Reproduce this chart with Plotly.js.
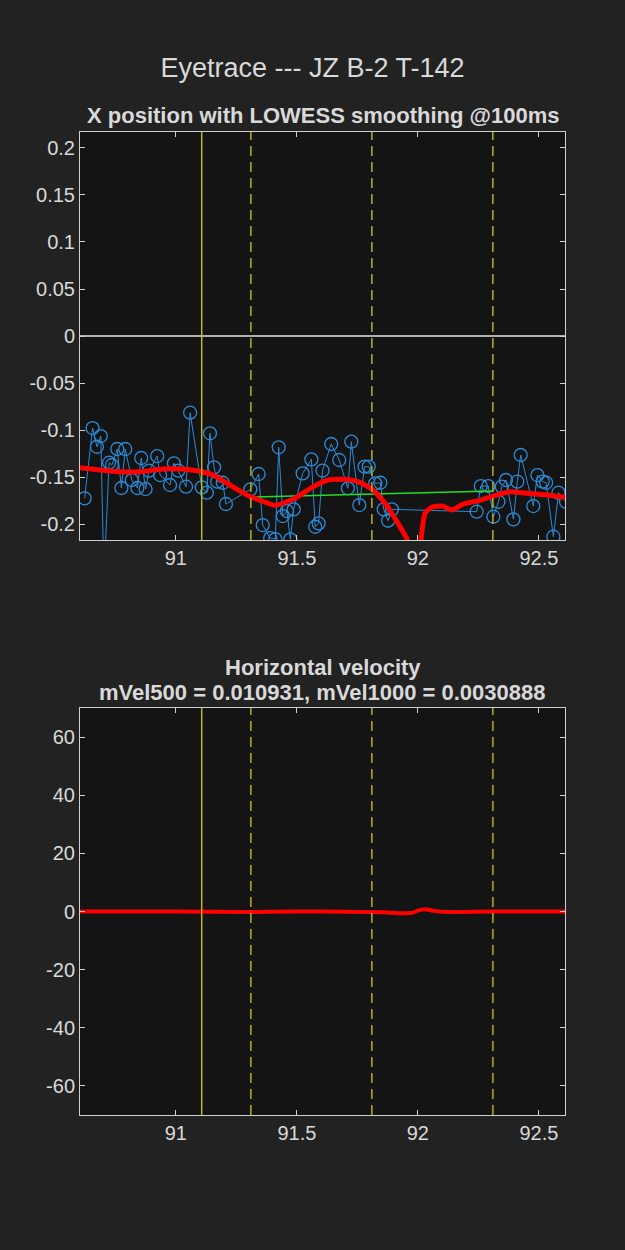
<!DOCTYPE html>
<html>
<head>
<meta charset="utf-8">
<script src="https://cdn.plot.ly/plotly-3.0.1.min.js"></script>
<style>
html,body{margin:0;padding:0;background:#222222;}
#plot{width:625px;height:1250px;}
</style>
</head>
<body>
<div id="plot"></div>
<script>
// ---- data ----
const posTime = [90.623,90.656,90.674,90.690,90.703,90.724,90.736,90.758,90.775,90.791,90.818,90.841,90.857,90.875,90.889,90.923,90.935,90.976,90.992,91.010,91.042,91.059,91.107,91.128,91.141,91.158,91.171,91.194,91.207,
  91.308,91.342,91.359,91.390,91.411,91.425,91.442,91.459,91.473,91.487,91.524,91.560,91.576,91.590,91.606,91.642,91.675,91.711,91.725,91.758,91.780,91.797,91.824,91.845,91.859,91.877,91.893,
  92.243,92.260,92.291,92.312,92.333,92.347,92.364,92.395,92.411,92.425,92.477,92.494,92.516,92.530,92.560,92.581,92.612];
const posX = [-0.1727,-0.0979,-0.1178,-0.1064,-0.2596,-0.1348,-0.1372,-0.1202,-0.1617,-0.1202,-0.1532,-0.1617,-0.1298,-0.1628,-0.1433,-0.1277,-0.1479,-0.1585,-0.1354,-0.1433,-0.1603,-0.0816,-0.1610,-0.1667,-0.1035,-0.1397,-0.1550,-0.1561,-0.1787,
  -0.1631,-0.1468,-0.2011,-0.2149,-0.2160,-0.1184,-0.1915,-0.1862,-0.2163,-0.1844,-0.1461,-0.1312,-0.2029,-0.1993,-0.1431,-0.1149,-0.1319,-0.1620,-0.1124,-0.1798,-0.1390,-0.1390,-0.1567,-0.1561,-0.1844,-0.1965,-0.1844,
  -0.1869,-0.1596,-0.1596,-0.1922,-0.1763,-0.1603,-0.1532,-0.1950,-0.1550,-0.1266,-0.1809,-0.1479,-0.1550,-0.1561,-0.2135,-0.1667,-0.1763];

const lowessTime = [90.604,90.687,90.769,90.852,90.947,91.017,91.087,91.154,91.224,91.298,91.356,91.410,91.492,91.563,91.629,91.699,91.753,91.811,91.864,91.918,91.955,91.976,91.992,92.005,92.013,92.030,92.057,92.103,92.140,92.188,92.229,92.270,92.340,92.381,92.450,92.533,92.608];
const lowessX = [-0.1401,-0.1426,-0.1444,-0.1444,-0.1415,-0.1415,-0.1433,-0.1479,-0.1585,-0.1697,-0.1755,-0.1801,-0.1727,-0.1610,-0.1532,-0.1524,-0.1550,-0.1631,-0.1780,-0.1993,-0.2160,-0.2330,-0.2440,-0.2360,-0.2170,-0.1886,-0.1822,-0.1809,-0.1851,-0.1787,-0.1763,-0.1737,-0.1681,-0.1656,-0.1673,-0.1691,-0.1716];

const fitTime = [91.311, 92.311];
const fitX = [-0.1713, -0.1649];

const velTime = [90.604,91.0,91.3,91.5,91.7,91.85,91.95,91.98,92.0,92.03,92.06,92.1,92.3,92.608];
const velX = [0,0,-0.2,0,-0.1,-0.3,-0.6,-0.4,0.3,0.8,0.3,-0.1,0,0];

const solidEvents = [91.107];
const dashedEvents = [91.31, 91.81, 92.31];

const xTicks = [91, 91.5, 92, 92.5];
const posTicks = [0.2,0.15,0.1,0.05,0,-0.05,-0.1,-0.15,-0.2];
const velTicks = [60,40,20,0,-20,-40,-60];

// ---- chart ----
const FONT = '"Liberation Sans", Arial, sans-serif';
const TXT = '#d9d9d9';
const traces = [
  {x: posTime, y: posX, type:'scatter', mode:'lines+markers', xaxis:'x', yaxis:'y',
   line:{color:'#2b8ad6', width:1}, marker:{symbol:'circle-open', size:13, color:'#2b8ad6', line:{width:1.3, color:'#2b8ad6'}}},
  {x: fitTime, y: fitX, type:'scatter', mode:'lines', xaxis:'x', yaxis:'y', line:{color:'#22dd22', width:1.5}},
  {x: lowessTime, y: lowessX, type:'scatter', mode:'lines', xaxis:'x', yaxis:'y', line:{color:'#ff0000', width:5, shape:'spline', smoothing:0.6}},
  {x: velTime, y: velX, type:'scatter', mode:'lines', xaxis:'x2', yaxis:'y2', line:{color:'#ff0000', width:4, shape:'spline', smoothing:0.6}}
];

const shapes = [];
['y','y2'].forEach((ya, i) => {
  const xr = i === 0 ? 'x' : 'x2';
  solidEvents.forEach(t => shapes.push({type:'line', xref:xr, yref:ya+' domain', x0:t, x1:t, y0:0, y1:1, line:{color:'#d6c814', width:1.3}, layer:'above'}));
  dashedEvents.forEach(t => shapes.push({type:'line', xref:xr, yref:ya+' domain', x0:t, x1:t, y0:0, y1:1, line:{color:'#b8ae1c', width:1.5, dash:'10px,6px'}, layer:'above'}));
});

const axBase = {
  showgrid:false, showline:true, linecolor:'#d0d0d0', linewidth:1, mirror:'ticks',
  ticks:'inside', ticklen:5, tickcolor:'#d0d0d0', tickwidth:1,
  tickfont:{family:FONT, size:20, color:TXT}, zeroline:false, fixedrange:true
};

const layout = {
  width:625, height:1250,
  paper_bgcolor:'#222222', plot_bgcolor:'#141414',
  margin:{l:80, r:60, t:0, b:0},
  showlegend:false,
  font:{family:FONT, color:TXT},
  title:{text:'Eyetrace --- JZ B-2 T-142', font:{family:FONT, size:27, color:TXT}, x:0.5, xanchor:'center', y:1-68/1250, yanchor:'middle'},
  xaxis: Object.assign({}, axBase, {domain:[0,1], range:[90.604,92.608], tickvals:xTicks, ticktext:xTicks.map(String), anchor:'y'}),
  yaxis: Object.assign({}, axBase, {domain:[1-540/1250, 1-132/1250], range:[-0.217,0.217], tickvals:posTicks, ticktext:posTicks.map(String), anchor:'x',
          zeroline:true, zerolinecolor:'#b0b0b0', zerolinewidth:1.5}),
  xaxis2: Object.assign({}, axBase, {domain:[0,1], range:[90.604,92.608], tickvals:xTicks, ticktext:xTicks.map(String), anchor:'y2'}),
  yaxis2: Object.assign({}, axBase, {domain:[1-1115/1250, 1-708/1250], range:[-70,70], tickvals:velTicks, ticktext:velTicks.map(String), anchor:'x2'}),
  shapes: shapes,
  annotations:[
    {text:'<b>X position with LOWESS smoothing @100ms</b>', xref:'x domain', yref:'paper', x:0.5, y:1-116/1250, xanchor:'center', yanchor:'middle', showarrow:false, font:{family:FONT, size:22, color:TXT}},
    {text:'<b>Horizontal velocity</b>', xref:'x domain', yref:'paper', x:0.5, y:1-667/1250, xanchor:'center', yanchor:'middle', showarrow:false, font:{family:FONT, size:22, color:TXT}},
    {text:'<b>mVel500 = 0.010931, mVel1000 = 0.0030888</b>', xref:'x domain', yref:'paper', x:0.5, y:1-692/1250, xanchor:'center', yanchor:'middle', showarrow:false, font:{family:FONT, size:22, color:TXT}}
  ]
};

Plotly.newPlot('plot', traces, layout, {displayModeBar:false, staticPlot:true});
</script>
</body>
</html>
